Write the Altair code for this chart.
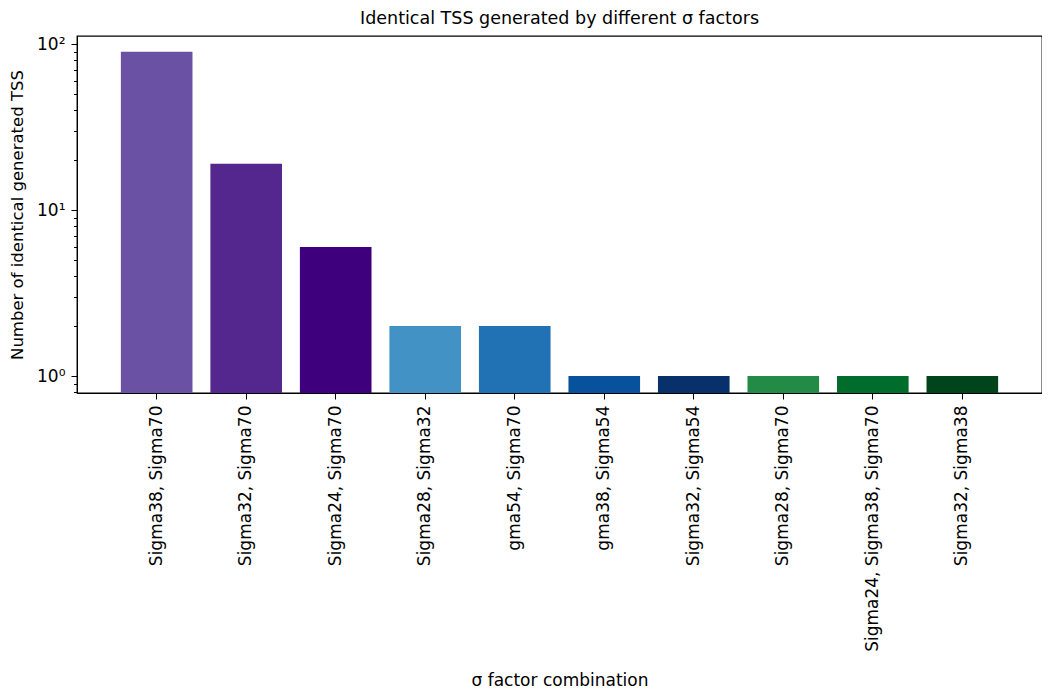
import altair as alt
import pandas as pd

combos = [
    "Sigma38, Sigma70",
    "Sigma32, Sigma70",
    "Sigma24, Sigma70",
    "Sigma28, Sigma32",
    "gma54, Sigma70",
    "gma38, Sigma54",
    "Sigma32, Sigma54",
    "Sigma28, Sigma70",
    "Sigma24, Sigma38, Sigma70",
    "Sigma32, Sigma38",
]
counts = [90, 19, 6, 2, 2, 1, 1, 1, 1, 1]
colors = ["#6a51a3", "#54278f", "#3f007d", "#4292c6", "#2171b5",
          "#08519c", "#08306b", "#238b45", "#006d2c", "#00441b"]
y_major_ticks = [1, 10, 100]
y_minor_ticks = [0.8, 0.9, 2, 3, 4, 5, 6, 7, 8, 9,
                 20, 30, 40, 50, 60, 70, 80, 90]
y_domain = [0.79, 112]

df = pd.DataFrame({"combo": combos, "count": counts})

FONT = "DejaVu Sans"

y_scale = alt.Scale(type="log", domain=y_domain, nice=False, clamp=True)

base = alt.Chart(df)

bars = base.mark_bar().encode(
    x=alt.X(
        "combo:N",
        sort=None,
        title="σ factor combination",
        scale=alt.Scale(paddingInner=0.2, paddingOuter=0.49),
        axis=alt.Axis(
            labelAngle=-90,
            labelFontSize=17,
            labelColor="black",
            labelPadding=6,
            tickSize=6,
            tickColor="black",
            domainColor="black",
            titleFontSize=17,
            titleFontWeight="normal",
            titleColor="black",
            titleY=287,
            titleBaseline="middle",
            labelLimit=400,
        ),
    ),
    y=alt.Y(
        "count:Q",
        title="Number of identical generated TSS",
        scale=y_scale,
        axis=alt.Axis(
            values=y_major_ticks,
            labelExpr="datum.value == 1 ? '10⁰' : datum.value == 10 ? '10¹' : '10²'",
            tickSize=6,
            labelFontSize=17,
            labelColor="black",
            labelPadding=6,
            tickColor="black",
            domainColor="black",
            grid=False,
            titleFontSize=16.5,
            titleFontWeight="normal",
            titleColor="black",
            titleX=-60,
            titleBaseline="middle",
        ),
    ),
    color=alt.Color(
        "combo:N",
        sort=None,
        scale=alt.Scale(domain=combos, range=colors),
        legend=None,
    ),
)

minor = base.mark_bar(opacity=0).encode(
    x=alt.X("combo:N", sort=None),
    y=alt.Y(
        "count:Q",
        scale=y_scale,
        axis=alt.Axis(
            values=y_minor_ticks,
            labels=False,
            tickSize=3.5,
            tickColor="black",
            domain=False,
            grid=False,
            title=None,
            orient="left",
        ),
    ),
)

chart = alt.layer(bars, minor).resolve_axis(y="independent").properties(
    width=965,
    height=357,
    title=alt.TitleParams(
        "Identical TSS generated by different σ factors",
        fontSize=17.5,
        fontWeight="normal",
        color="black",
        offset=8,
    ),
    autosize=alt.AutoSizeParams(type="none"),
    padding={"left": 69, "top": 28, "right": 0, "bottom": 295},
).configure(
    font=FONT,
).configure_view(
    stroke="black",
    strokeWidth=1.3,
).configure_axis(
    labelFont=FONT,
    titleFont=FONT,
)

chart.save("out.html", embed_options={"renderer": "svg", "actions": False})
